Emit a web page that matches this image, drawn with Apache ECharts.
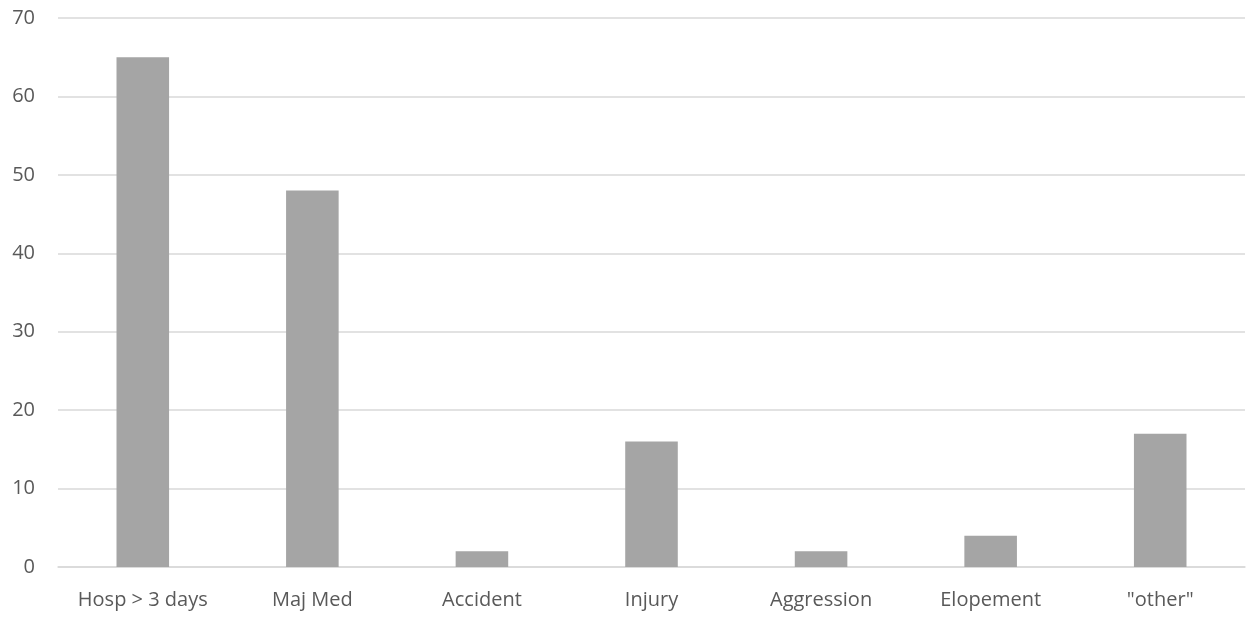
<!DOCTYPE html>
<html>
<head>
<meta charset="utf-8">
<script src="https://cdn.jsdelivr.net/npm/echarts@6/dist/echarts.min.js"></script>
<style>
  html, body { margin: 0; padding: 0; background: #ffffff; }
  #chart { width: 1247px; height: 626px; }
</style>
</head>
<body>
<div id="chart"></div>
<script>
// Incident counts by category
const categories = ['Hosp > 3 days', 'Maj Med', 'Accident', 'Injury', 'Aggression', 'Elopement', '"other"'];
const counts = [65, 48, 2, 16, 2, 4, 17];

const chart = echarts.init(document.getElementById('chart'), null, { renderer: 'canvas' });

chart.setOption({
  animation: false,
  backgroundColor: '#ffffff',
  grid: { left: 58, right: 2, top: 18, bottom: 59, containLabel: false },
  xAxis: {
    type: 'category',
    data: categories,
    axisLine: { show: true, lineStyle: { color: '#d9d9d9', width: 1.5 } },
    axisTick: { show: false },
    axisLabel: {
      color: '#595959',
      fontFamily: 'Open Sans',
      fontSize: 20,
      margin: 23
    }
  },
  yAxis: {
    type: 'value',
    min: 0,
    max: 70,
    interval: 10,
    axisLine: { show: false },
    axisTick: { show: false },
    splitLine: { lineStyle: { color: '#d9d9d9', width: 1.5 } },
    axisLabel: {
      color: '#595959',
      fontFamily: 'Open Sans',
      fontSize: 20,
      margin: 23
    }
  },
  series: [{
    type: 'bar',
    data: counts,
    barWidth: '31%',
    itemStyle: { color: '#a5a5a5' }
  }]
});
</script>
</body>
</html>
